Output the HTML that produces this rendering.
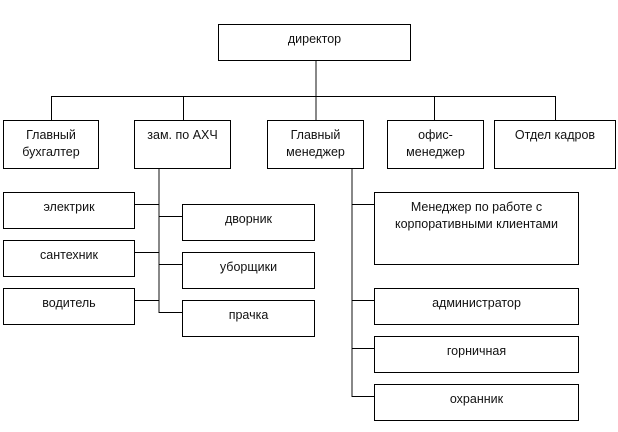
<!DOCTYPE html>
<html><head><meta charset="utf-8"><style>
html,body{margin:0;padding:0;background:#fff;}
body{width:618px;height:432px;position:relative;overflow:hidden;font-family:"Liberation Sans","DejaVu Sans",sans-serif;font-size:12.5px;color:#111;}
.b{position:absolute;box-sizing:border-box;border:1px solid #000;background:#fff;text-align:center;line-height:17px;padding-top:6px;}
.h{position:absolute;height:1px;background:#000;}
.v{position:absolute;width:1px;background:#000;}
.g{position:absolute;width:2px;background:#888;}
</style></head><body>
<!-- connectors -->
<div class="g" style="left:315px;top:60px;height:60px"></div>
<div class="h" style="left:51px;top:96px;width:505px"></div>
<div class="v" style="left:51px;top:96px;height:24px"></div>
<div class="v" style="left:183px;top:96px;height:24px"></div>
<div class="v" style="left:434px;top:96px;height:24px"></div>
<div class="v" style="left:555px;top:96px;height:24px"></div>

<div class="g" style="left:158px;top:168px;height:145px"></div>
<div class="h" style="left:134px;top:204px;width:25px"></div>
<div class="h" style="left:134px;top:252px;width:25px"></div>
<div class="h" style="left:134px;top:300px;width:25px"></div>
<div class="h" style="left:159px;top:216px;width:23px"></div>
<div class="h" style="left:159px;top:264px;width:23px"></div>
<div class="h" style="left:159px;top:312px;width:23px"></div>

<div class="g" style="left:351px;top:168px;height:229px"></div>
<div class="h" style="left:352px;top:204px;width:22px"></div>
<div class="h" style="left:352px;top:300px;width:22px"></div>
<div class="h" style="left:352px;top:348px;width:22px"></div>
<div class="h" style="left:352px;top:396px;width:22px"></div>

<!-- boxes -->
<div class="b" style="left:218px;top:24px;width:193px;height:37px">директор</div>
<div class="b" style="left:3px;top:120px;width:96px;height:49px">Главный<br>бухгалтер</div>
<div class="b" style="left:134px;top:120px;width:97px;height:49px">зам. по АХЧ</div>
<div class="b" style="left:267px;top:120px;width:97px;height:49px">Главный<br>менеджер</div>
<div class="b" style="left:387px;top:120px;width:97px;height:49px">офис-<br>менеджер</div>
<div class="b" style="left:494px;top:120px;width:122px;height:49px">Отдел кадров</div>

<div class="b" style="left:3px;top:192px;width:132px;height:37px">электрик</div>
<div class="b" style="left:3px;top:240px;width:132px;height:37px">сантехник</div>
<div class="b" style="left:3px;top:288px;width:132px;height:37px">водитель</div>
<div class="b" style="left:182px;top:204px;width:133px;height:37px">дворник</div>
<div class="b" style="left:182px;top:252px;width:133px;height:37px">уборщики</div>
<div class="b" style="left:182px;top:300px;width:133px;height:37px">прачка</div>

<div class="b" style="left:374px;top:192px;width:205px;height:73px">Менеджер по работе с<br>корпоративными клиентами</div>
<div class="b" style="left:374px;top:288px;width:205px;height:37px">администратор</div>
<div class="b" style="left:374px;top:336px;width:205px;height:37px">горничная</div>
<div class="b" style="left:374px;top:384px;width:205px;height:37px">охранник</div>
</body></html>
